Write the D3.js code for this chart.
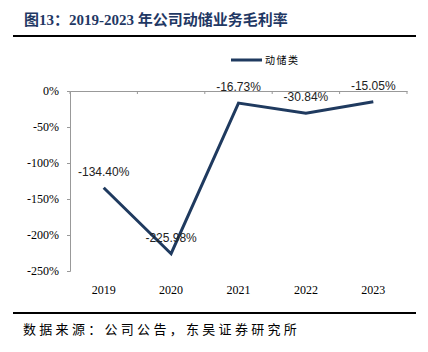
<!DOCTYPE html>
<html>
<head>
<meta charset="utf-8">
<script src="https://cdn.jsdelivr.net/npm/d3@7"></script>
<style>
  body { margin: 0; background: #fff; }
  svg { display: block; }
</style>
</head>
<body>
<script>
// data
var years = ['2019', '2020', '2021', '2022', '2023'];
var margin = [-134.40, -225.98, -16.73, -30.84, -15.05];
var yTicks = [0, -50, -100, -150, -200, -250];
var seriesName = '动储类';

var W = 428, H = 352;
var svg = d3.select('body').append('svg')
    .attr('width', W)
    .attr('height', H);

var navy = '#1f3a5f';
var serif = '"Liberation Serif", "Times New Roman", serif';
var cjk = '"Liberation Serif", "Noto Sans CJK SC", serif';

// title + rule
svg.append('text')
    .attr('x', 24).attr('y', 25)
    .attr('font-family', cjk)
    .attr('font-weight', 'bold')
    .attr('font-size', 15)
    .attr('fill', '#1f3864')
    .text('图13：2019-2023 年公司动储业务毛利率');

svg.append('line')
    .attr('x1', 13).attr('x2', 416)
    .attr('y1', 36).attr('y2', 36)
    .attr('stroke', '#000').attr('stroke-width', 2);

// scales
var x = d3.scaleBand().domain(years).range([70, 407]);
var y = d3.scaleLinear().domain([-250, 0]).range([271, 91]);

// y axis
var yAxis = d3.axisLeft(y)
    .tickValues(yTicks)
    .tickSize(3)
    .tickFormat(function(d) { return d + '%'; });

var gy = svg.append('g')
    .attr('transform', 'translate(70,0)')
    .call(yAxis);
gy.select('.domain').attr('stroke', '#999');
gy.selectAll('.tick line').attr('stroke', '#999');
gy.selectAll('.tick text')
    .attr('x', -11)
    .attr('font-family', serif)
    .attr('font-size', 12)
    .attr('fill', '#000');

// x axis along 0%
var xAxis = d3.axisBottom(x).tickSize(0).tickFormat('');
var gx = svg.append('g')
    .attr('transform', 'translate(0,' + y(0) + ')')
    .call(xAxis);
gx.select('.domain').attr('stroke', '#999');
// boundary ticks
var bounds = years.map(function(d) { return x(d); }).concat([x.range()[1]]);
gx.selectAll('.bt').data(bounds).enter().append('line')
    .attr('x1', function(d) { return d; })
    .attr('x2', function(d) { return d; })
    .attr('y1', 0).attr('y2', 3)
    .attr('stroke', '#999');

// category labels under the plot
svg.selectAll('.xl').data(years).enter().append('text')
    .attr('x', function(d) { return x(d) + x.bandwidth() / 2; })
    .attr('y', 294)
    .attr('text-anchor', 'middle')
    .attr('font-family', serif)
    .attr('font-size', 12)
    .attr('fill', '#000')
    .text(function(d) { return d; });

// line
var line = d3.line()
    .x(function(d, i) { return x(years[i]) + x.bandwidth() / 2; })
    .y(function(d) { return y(d); });

svg.append('path')
    .datum(margin)
    .attr('d', line)
    .attr('fill', 'none')
    .attr('stroke', navy)
    .attr('stroke-width', 3);

// data labels
svg.selectAll('.dl').data(margin).enter().append('text')
    .attr('x', function(d, i) { return x(years[i]) + x.bandwidth() / 2; })
    .attr('y', function(d) { return y(d) - 12; })
    .attr('text-anchor', 'middle')
    .attr('font-family', '"Liberation Sans", Arial, sans-serif')
    .attr('font-size', 12)
    .attr('fill', '#222')
    .text(function(d) { return d.toFixed(2) + '%'; });

// legend
svg.append('line')
    .attr('x1', 231).attr('x2', 262)
    .attr('y1', 60).attr('y2', 60)
    .attr('stroke', navy).attr('stroke-width', 3);
svg.append('text')
    .attr('x', 265).attr('y', 64)
    .attr('font-family', '"Noto Sans CJK SC", sans-serif')
    .attr('font-size', 10)
    .attr('letter-spacing', 1.5)
    .attr('fill', '#000')
    .text(seriesName);

// footer
svg.append('line')
    .attr('x1', 13).attr('x2', 416)
    .attr('y1', 313).attr('y2', 313)
    .attr('stroke', '#000').attr('stroke-width', 2);
svg.append('text')
    .attr('x', 23).attr('y', 334)
    .attr('font-family', '"Noto Sans CJK SC", sans-serif')
    .attr('font-size', 13)
    .attr('letter-spacing', 3.3)
    .attr('fill', '#000')
    .text('数据来源：公司公告，东吴证券研究所');
</script>
</body>
</html>
